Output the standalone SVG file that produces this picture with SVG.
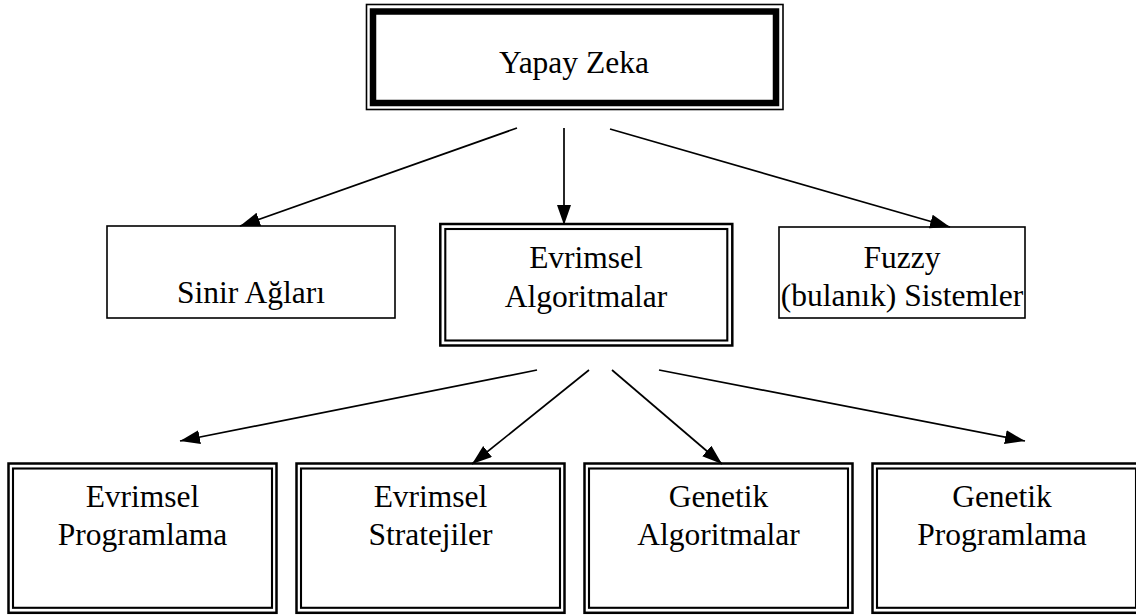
<svg xmlns="http://www.w3.org/2000/svg" width="1136" height="615" viewBox="0 0 1136 615">
  <style>
    text { font-family: "Liberation Serif", "Times New Roman", Times, serif; font-size: 31.5px; fill: #000; text-anchor: middle; }
    .thin { fill: #fff; stroke: #000; stroke-width: 1.6; }
    .dbl-out { fill: #fff; stroke: #000; stroke-width: 2.5; }
    .dbl-in { fill: none; stroke: #000; stroke-width: 2.1; }
    .edge { stroke: #000; stroke-width: 1.7; fill: none; marker-end: url(#arrow); }
  </style>
  <defs>
    <marker id="arrow" markerUnits="userSpaceOnUse" markerWidth="21" markerHeight="15" refX="20" refY="7" orient="auto">
      <path d="M0,0 L20,7 L0,14 Z" fill="#000"/>
    </marker>
  </defs>
  <rect width="1136" height="615" fill="#fff"/>

  <!-- Root: thin outer frame plus heavy inner frame -->
  <g id="yapay-zeka">
    <rect x="366.5" y="4.5" width="416.5" height="105" fill="#fff" stroke="#000" stroke-width="1.6"/>
    <rect x="373" y="11.5" width="403" height="91.5" fill="none" stroke="#000" stroke-width="6.5"/>
    <text x="574" y="73">Yapay Zeka</text>
  </g>

  <!-- Second level -->
  <g id="sinir-aglari">
    <rect class="thin" x="107" y="226" width="288" height="92"/>
    <text x="251" y="303">Sinir Ağları</text>
  </g>

  <g id="evrimsel-algoritmalar">
    <rect class="dbl-out" x="440.3" y="224" width="292" height="121.5"/>
    <rect class="dbl-in" x="445.3" y="229" width="282" height="111.5"/>
    <text x="586" y="268">Evrimsel</text>
    <text x="586" y="306.5">Algoritmalar</text>
  </g>

  <g id="fuzzy-sistemler">
    <rect class="thin" x="779" y="227" width="246" height="91"/>
    <text x="902" y="268">Fuzzy</text>
    <text x="902" y="306">(bulanık) Sistemler</text>
  </g>

  <!-- Third level -->
  <g id="evrimsel-programlama">
    <rect class="dbl-out" x="8.5" y="463.5" width="268" height="149.3"/>
    <rect class="dbl-in" x="13" y="468.5" width="259" height="139.3"/>
    <text x="142.5" y="506.5">Evrimsel</text>
    <text x="142.5" y="545">Programlama</text>
  </g>

  <g id="evrimsel-stratejiler">
    <rect class="dbl-out" x="296.5" y="463.5" width="268" height="149.3"/>
    <rect class="dbl-in" x="301" y="468.5" width="259" height="139.3"/>
    <text x="430.5" y="506.5">Evrimsel</text>
    <text x="430.5" y="545">Stratejiler</text>
  </g>

  <g id="genetik-algoritmalar">
    <rect class="dbl-out" x="584.5" y="463.5" width="268" height="149.3"/>
    <rect class="dbl-in" x="589" y="468.5" width="259" height="139.3"/>
    <text x="718.5" y="506.5">Genetik</text>
    <text x="718.5" y="545">Algoritmalar</text>
  </g>

  <g id="genetik-programlama">
    <rect class="dbl-out" x="872.5" y="463.5" width="268" height="149.3"/>
    <rect class="dbl-in" x="877" y="468.5" width="259" height="139.3"/>
    <text x="1002" y="506.5">Genetik</text>
    <text x="1002" y="545">Programlama</text>
  </g>

  <!-- Connectors -->
  <g id="connectors">
    <line class="edge" x1="517" y1="128" x2="240" y2="226"/>
    <line class="edge" x1="564" y1="128" x2="564" y2="225"/>
    <line class="edge" x1="610" y1="129" x2="950" y2="227"/>
    <line class="edge" x1="537" y1="370" x2="180" y2="441"/>
    <line class="edge" x1="589" y1="370" x2="472" y2="464"/>
    <line class="edge" x1="612" y1="370" x2="722" y2="464"/>
    <line class="edge" x1="659" y1="370" x2="1025" y2="441"/>
  </g>
</svg>
